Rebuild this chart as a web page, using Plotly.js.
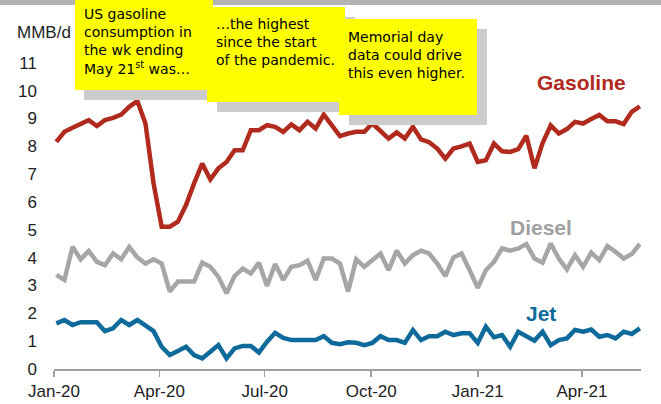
<!DOCTYPE html>
<html>
<head>
<meta charset="utf-8">
<script src="https://cdn.plot.ly/plotly-3.0.1.min.js"></script>
<style>html,body{margin:0;padding:0;background:#fff;}#chart{width:661px;height:404px;}</style>
</head>
<body>
<div id="chart"></div>
<script>
// Weekly US product supplied, MMB/d (weeks ending Fridays, Jan 3 2020 .. May 21 2021)
const startWeek = '2020-01-03';
const gasoline = [8.16,8.52,8.67,8.80,8.94,8.73,8.94,9.02,9.14,9.42,9.63,8.82,6.67,5.11,5.11,5.29,5.89,6.67,7.38,6.81,
  7.21,7.44,7.86,7.86,8.58,8.58,8.76,8.70,8.52,8.79,8.58,8.88,8.64,9.14,8.76,8.37,8.46,8.52,8.52,8.82,
  8.55,8.28,8.50,8.28,8.70,8.25,8.15,7.92,7.56,7.92,8.00,8.10,7.44,7.50,8.10,7.82,7.80,7.90,8.38,7.21,
  8.12,8.75,8.46,8.62,8.88,8.82,8.98,9.13,8.90,8.90,8.80,9.24,9.44];
const diesel = [3.38,3.20,4.39,3.94,4.24,3.85,3.73,4.15,3.94,4.39,4.01,3.79,3.94,3.79,2.78,3.14,3.14,3.14,3.82,3.67,
  3.31,2.72,3.34,3.61,3.43,3.82,2.98,3.77,3.20,3.67,3.73,3.89,3.20,3.97,3.97,3.79,2.78,3.94,3.67,3.91,
  4.15,3.55,4.25,3.79,4.09,4.25,4.15,3.79,3.34,4.01,4.15,3.55,2.92,3.55,3.85,4.33,4.25,4.33,4.49,3.97,
  3.82,4.51,3.97,3.58,4.09,3.67,4.18,3.91,4.42,4.21,3.97,4.13,4.49];
const jet = [1.64,1.76,1.58,1.68,1.68,1.68,1.36,1.46,1.76,1.58,1.76,1.54,1.36,0.80,0.50,0.65,0.80,0.50,0.38,0.62,
  0.86,0.38,0.74,0.83,0.83,0.59,0.98,1.30,1.12,1.04,1.04,1.04,1.04,1.18,0.94,0.89,0.96,0.94,0.86,0.94,
  1.18,1.04,1.04,0.94,1.40,1.04,1.18,1.18,1.34,1.22,1.28,1.28,0.94,1.52,1.14,1.22,0.80,1.34,1.16,1.02,
  1.34,0.86,1.04,1.10,1.40,1.34,1.42,1.16,1.22,1.10,1.34,1.26,1.46];
const tickDates = ['2020-01-01','2020-04-01','2020-07-01','2020-10-01','2021-01-01','2021-04-01'];
const tickLabels = ['Jan-20','Apr-20','Jul-20','Oct-20','Jan-21','Apr-21'];
const yTicks = [0,1,2,3,4,5,6,7,8,9,10,11];
const seriesNames = ['Gasoline','Diesel','Jet'];
const unitLabel = 'MMB/d';
const notes = [
  'US gasoline<br>consumption in<br>the wk ending<br>May 21<sup>st</sup> was…',
  '…the highest<br>since the start<br>of the pandemic.',
  'Memorial day<br>data could drive<br>this even higher.'
];

// weekly dates
const dates = [];
(function(){
  const d0 = new Date(startWeek + 'T00:00:00Z');
  for (let i = 0; i < gasoline.length; i++) {
    const d = new Date(d0.getTime() + i * 7 * 86400000);
    dates.push(d.toISOString().slice(0,10));
  }
})();

const RED = '#b02b1d', GREY = '#a6a6a6', BLUE = '#0f6a9c';
const L = 54, R = 641, T = 35, B = 369;
const px = x => (x - L) / (R - L);
const py = y => (B - y) / (B - T);

function rect(x0, y0, x1, y1, color) {
  return {type:'rect', xref:'paper', yref:'paper', x0:px(x0), x1:px(x1), y0:py(y1), y1:py(y0),
          fillcolor:color, line:{width:0}, layer:'above'};
}

const shapes = [
  rect(0, 0, 661, 5, '#b3b3b3'),
  rect(84, 10, 207, 100, '#cccccc'),
  rect(75, -2, 213, 90, '#ffff00'),
  rect(217, 17, 355, 112, '#cccccc'),
  rect(207, 7, 345, 102, '#ffff00'),
  rect(349, 29, 487, 125, '#cccccc'),
  rect(339, 19, 477, 115, '#ffff00')
];

const noteFont = {family:'DejaVu Sans', size:14, color:'#000'};
const annotations = [
  {xref:'paper', yref:'paper', x:px(82), y:py(41.5), xanchor:'left', yanchor:'middle', align:'left',
   text:notes[0], showarrow:false, font:noteFont},
  {xref:'paper', yref:'paper', x:px(214), y:py(42.5), xanchor:'left', yanchor:'middle', align:'left',
   text:notes[1], showarrow:false, font:noteFont},
  {xref:'paper', yref:'paper', x:px(346), y:py(54.5), xanchor:'left', yanchor:'middle', align:'left',
   text:notes[2], showarrow:false, font:noteFont},
  {xref:'paper', yref:'paper', x:px(15), y:py(32), xanchor:'left', yanchor:'middle',
   text:unitLabel, showarrow:false, font:{family:'Arial, Liberation Sans, sans-serif', size:17, color:'#222'}},
  {xref:'x', yref:'y', x:'2021-04-01', y:10.28, text:'<b>'+seriesNames[0]+'</b>', showarrow:false,
   font:{family:'Arial, Liberation Sans, sans-serif', size:21, color:RED}},
  {xref:'x', yref:'y', x:'2021-02-25', y:5.1, text:'<b>'+seriesNames[1]+'</b>', showarrow:false,
   font:{family:'Arial, Liberation Sans, sans-serif', size:21, color:'#a0a0a0'}},
  {xref:'x', yref:'y', x:'2021-02-25', y:2.01, text:'<b>'+seriesNames[2]+'</b>', showarrow:false,
   font:{family:'Arial, Liberation Sans, sans-serif', size:21, color:BLUE}}
];

const traces = [
  {x:dates, y:diesel, name:seriesNames[1], type:'scatter', mode:'lines', line:{color:GREY, width:4.5}},
  {x:dates, y:jet, name:seriesNames[2], type:'scatter', mode:'lines', line:{color:BLUE, width:4.5}},
  {x:dates, y:gasoline, name:seriesNames[0], type:'scatter', mode:'lines', line:{color:RED, width:4.5}}
];

const layout = {
  width:661, height:404,
  margin:{l:L, r:661-R, t:T, b:404-B},
  paper_bgcolor:'#fff', plot_bgcolor:'#fff',
  showlegend:false,
  font:{family:'Arial, Liberation Sans, sans-serif', size:17, color:'#222'},
  xaxis:{type:'date', range:['2020-01-01','2021-05-22'], tickvals:tickDates, ticktext:tickLabels,
         ticks:'outside', ticklen:6, tickwidth:1.5, tickcolor:'#a0a0a0',
         showline:true, linecolor:'#a0a0a0', linewidth:1.5, showgrid:false, zeroline:false,
         tickfont:{size:17, color:'#222'}},
  yaxis:{range:[0,12], tickvals:yTicks, ticks:'', showline:false, showgrid:false, zeroline:false,
         ticklabelstandoff:16, tickfont:{size:17, color:'#222'}},
  shapes:shapes,
  annotations:annotations
};

Plotly.newPlot('chart', traces, layout, {displayModeBar:false, staticPlot:true});
</script>
</body>
</html>
